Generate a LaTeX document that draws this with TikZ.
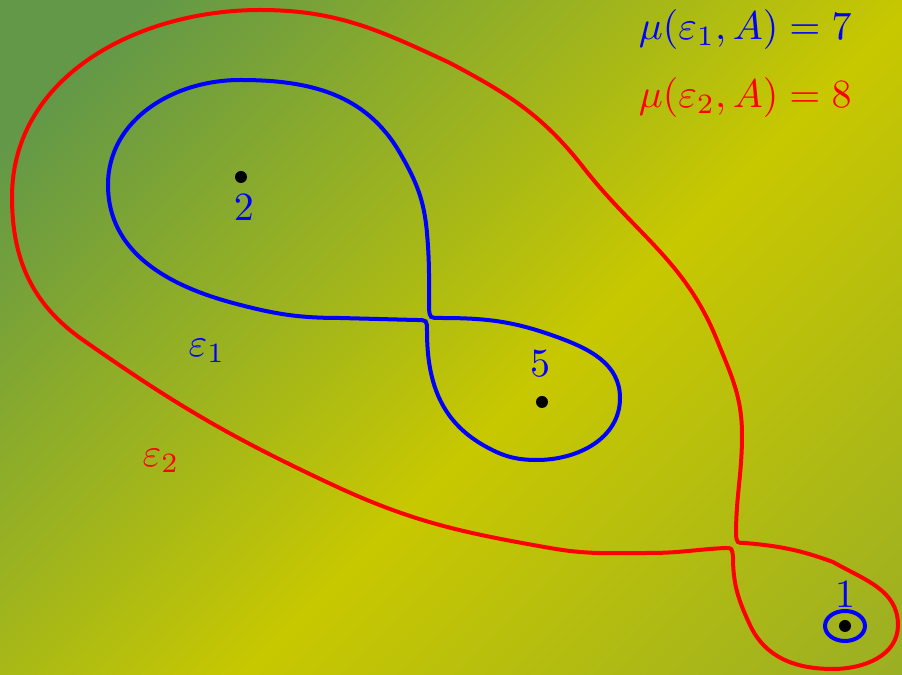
\documentclass[tikz,border=0pt]{standalone}
\usepackage{amsmath,amssymb}
\usepackage{tikz}
\usetikzlibrary{positioning}
\definecolor{bgtop}{RGB}{98,152,72}
\definecolor{bgmid}{RGB}{200,200,0}
\definecolor{bgbot}{RGB}{146,170,42}
\begin{document}
\begin{tikzpicture}[x=0.25pt,y=0.25pt,
  loopa/.style={blue,line width=1pt},
  loopb/.style={red,line width=1pt},
  spot/.style={fill=black},
  lbl/.style={inner sep=0pt,anchor=base}]
\useasboundingbox (0,0) rectangle (902,675);
\begin{scope}
  \clip (0,0) rectangle (902,675);
  \shade[top color=bgtop,bottom color=bgbot,middle color=bgmid,shading angle=45]
    (-33.25,-278.25) rectangle (1066.75,821.75);
\end{scope}
\coordinate (p2) at (241,498);
\coordinate (p5) at (542,273);
\coordinate (p1) at (845,49);
\draw[loopb] (736,140)
  to[out=90,in=-90] (742,240)
  to[out=90,in=-68] (717,335)
  to[out=112,in=-52] (583,508)
  to[out=128,in=-28] (450,612)
  to[out=155,in=0] (260,665)
  to[out=180,in=90] (12,478)
  to[out=-90,in=145] (83,335)
  to[out=-35,in=155] (333,190)
  to[out=-25,in=170] (550,127)
  to[out=-10,in=180] (650,122)
  to[out=0,in=183] (725,127)
  .. controls (732,127) .. (733,118)
  to[out=-90,in=115] (750,50)
  to[out=-65,in=180] (833,6)
  to[out=0,in=-90] (898,50)
  to[out=90,in=-30] (833,113)
  to[out=160,in=-5] (745,132)
  .. controls (737,132) .. (736,140) -- cycle;
\draw[loopa] (429,366)
  to[out=90,in=-85] (427,442)
  to[out=95,in=-60] (400,522)
  to[out=120,in=0] (240,595)
  to[out=180,in=90] (108,490)
  to[out=-90,in=165] (233,372)
  to[out=-15,in=180] (340,357)
  -- (416,355)
  .. controls (427,355) .. (427,344)
  to[out=-90,in=150] (483,230)
  to[out=-30,in=180] (537,215)
  to[out=0,in=-90] (620,277)
  to[out=90,in=-20] (557,338)
  to[out=160,in=0] (440,357)
  .. controls (430,357) .. (429,366) -- cycle;
\draw[loopa] (p1) ellipse[x radius=20,y radius=15];
\fill[spot] (p2) circle[radius=6];
\fill[spot] (p5) circle[radius=6];
\fill[spot] (p1) circle[radius=6];
\node[lbl,blue] (n2) at (244,454) {$2$};
\node[lbl,blue] (n5) at (540,298) {$5$};
\node[lbl,blue] (n1) at (845,67) {$1$};
\node[lbl,blue] (e1) at (207,318) {$\varepsilon_1$};
\node[lbl,red] (e2) at (161,208) {$\varepsilon_2$};
\node[lbl,blue,anchor=base west] (mu1) at (638,635) {$\mu(\varepsilon_1,A)=7$};
\node[lbl,red,anchor=base west] (mu2) at (638,567) {$\mu(\varepsilon_2,A)=8$};
\end{tikzpicture}
\end{document}
